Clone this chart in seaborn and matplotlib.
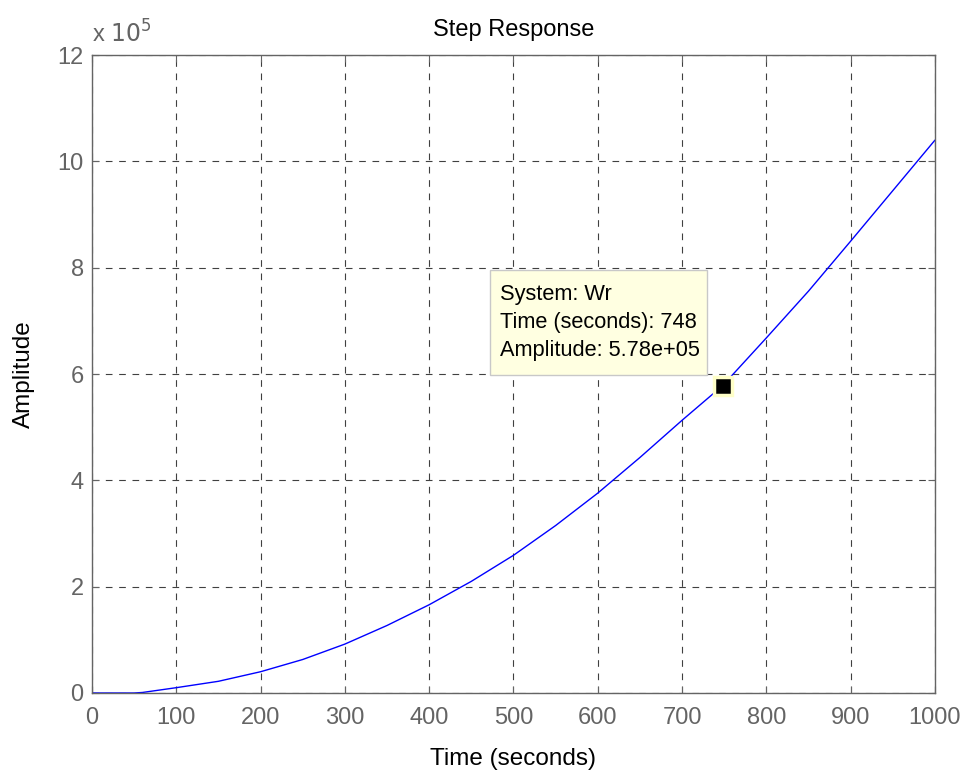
import numpy as np
import pandas as pd
import seaborn as sns
import matplotlib.pyplot as plt
from matplotlib.ticker import FuncFormatter
from matplotlib.patches import Rectangle

# step response samples
tiempo = [0, 50, 60, 100, 150, 200, 250, 300, 350, 400, 450, 500, 550, 600,
          650, 700, 748, 800, 850, 900, 950, 1000]
amplitud = [0, 0.0, 0.01e5, 0.10e5, 0.22e5, 0.40e5, 0.63e5, 0.92e5, 1.27e5, 1.66e5,
            2.10e5, 2.59e5, 3.15e5, 3.76e5, 4.43e5, 5.13e5, 5.78e5, 6.68e5,
            7.56e5, 8.50e5, 9.45e5, 10.40e5]
punto_t = 748
punto_a = 5.78e5

df = pd.DataFrame({"t": tiempo, "a": amplitud})

sns.set_style("ticks")
plt.rcParams['font.family'] = ['Liberation Sans', 'DejaVu Sans']
gris = "#646464"

fig = plt.figure(figsize=(9.66, 7.73), dpi=100)
ax = fig.add_axes([0.0952, 0.1035, 0.8727, 0.8253])

sns.lineplot(data=df, x="t", y="a", color="blue", linewidth=1.0, ax=ax)

ax.set_xlim(0, 1000)
ax.set_ylim(0, 12e5)
ax.set_xticks(np.arange(0, 1001, 100))
ax.set_yticks(np.arange(0, 12.1e5, 2e5))
ax.yaxis.set_major_formatter(FuncFormatter(lambda v, p: "%d" % round(v / 1e5)))
ax.grid(True, linestyle=(0, (6, 6)), color="#404040", linewidth=0.8)
ax.tick_params(direction="in", top=True, right=True, labelsize=17,
               colors=gris, length=5)
ax.tick_params(axis="x", pad=10)
ax.tick_params(axis="y", pad=6)
for s in ax.spines.values():
    s.set_color(gris)
    s.set_linewidth(1.0)

ax.text(0.0, 1.012, r"x $10^5$", transform=ax.transAxes, fontsize=17,
        color=gris, ha="left", va="bottom")
ax.set_title("Step Response", fontsize=17, color="black", pad=14)
ax.set_xlabel("Time (seconds)", fontsize=17.5, color="black", labelpad=14)
ax.set_ylabel("Amplitude", fontsize=17.5, color="black", labelpad=16)

ax.plot([punto_t], [punto_a], marker="s", markersize=13, color="black",
        markeredgecolor="#ffffc8", markeredgewidth=2.5, zorder=5)
ax.add_patch(Rectangle((472, 5.98e5), 258, 1.98e5, facecolor="#ffffe1",
                       edgecolor="#c8c8c8", linewidth=1, zorder=6))
ax.text(484, 6.97e5, "System: Wr\nTime (seconds): 748\nAmplitude: 5.78e+05",
        fontsize=15.7, color="black", ha="left", va="center", linespacing=1.45,
        zorder=7)

plt.savefig("out.png", dpi=100)
